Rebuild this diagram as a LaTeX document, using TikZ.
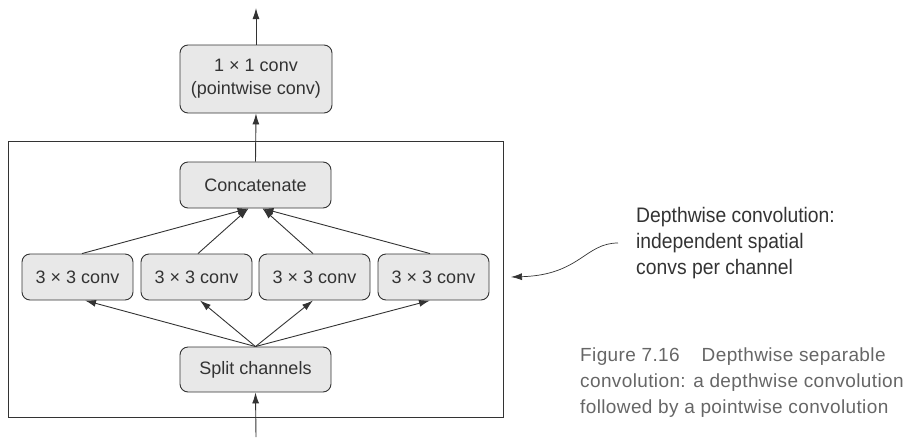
\documentclass[tikz,border=0pt]{standalone}
\usepackage{fontspec}
\setmainfont{Liberation Sans}
\newfontfamily\capfont[LetterSpace=2]{Liberation Sans}
\usetikzlibrary{arrows.meta}
\definecolor{boxfill}{RGB}{232,232,232}
\definecolor{ink}{RGB}{51,51,51}
\definecolor{capgray}{RGB}{102,102,102}
\begin{document}
\begin{tikzpicture}[x=1pt,y=-1pt,
  box/.style={draw=ink,line width=0.9pt,fill=boxfill,rounded corners=8pt,
    inner sep=0pt,align=center,text=ink,font=\fontsize{18}{23}\selectfont},
  conn/.style={draw=ink,line width=0.9pt,-{Latex[length=11pt,width=7pt]}},
  frame/.style={draw=ink,line width=0.9pt}]
\useasboundingbox (0,0) rectangle (905,437);
\draw[frame] (8,141) rectangle (503,417);
\node[box,minimum width=152pt,minimum height=68pt] (pw) at (256,79) {1 × 1 conv\\(pointwise conv)};
\node[box,minimum width=151pt,minimum height=46pt] (cat) at (255.5,185) {Concatenate};
\node[box,minimum width=111pt,minimum height=46pt] (c1) at (77.5,277) {3 × 3 conv};
\node[box,minimum width=111pt,minimum height=46pt] (c2) at (196.5,277) {3 × 3 conv};
\node[box,minimum width=111pt,minimum height=46pt] (c3) at (314.5,277) {3 × 3 conv};
\node[box,minimum width=111pt,minimum height=46pt] (c4) at (433.5,277) {3 × 3 conv};
\node[box,minimum width=151pt,minimum height=45pt] (split) at (255.5,369.5) {Split channels};
\coordinate (topend) at (256,8);
\coordinate (botstart) at (256,437);
\draw[conn] (pw.north) -- (topend);
\draw[conn] (cat.north) -- (pw.south);
\draw[conn] (botstart) -- (split.south);
\draw[conn] ([xshift=4.5pt]c1.north) -- ([xshift=-7pt]cat.south);
\draw[conn] ([xshift=1.5pt]c2.north) -- ([xshift=-7pt]cat.south);
\draw[conn] ([xshift=-1.5pt]c3.north) -- ([xshift=7pt]cat.south);
\draw[conn] ([xshift=-3.5pt]c4.north) -- ([xshift=7pt]cat.south);
\draw[conn] (split.north) -- ([xshift=7.5pt]c1.south);
\draw[conn] (split.north) -- ([xshift=3.5pt]c2.south);
\draw[conn] (split.north) -- ([xshift=-1.5pt]c3.south);
\draw[conn] (split.north) -- ([xshift=-3.5pt]c4.south);
\node[anchor=north west,align=left,inner sep=0pt,text=ink,
  font=\fontsize{21}{26}\selectfont] (note) at (636,207)
  {\scalebox{0.92}[1]{Depthwise convolution:}\\\scalebox{0.92}[1]{independent spatial}\\\scalebox{0.92}[1]{convs per channel}};
\coordinate (nstart) at (618,243);
\coordinate (nend) at (511,277);
\draw[conn,line width=0.7pt] (nstart) .. controls (585,243) and (580,275) .. (nend);
\node[anchor=north west,align=left,inner sep=0pt,text=capgray,
  font=\capfont\fontsize{19}{26}\selectfont] (cap) at (580,348)
  {Figure 7.16\hspace{22pt}Depthwise separable\\convolution: a depthwise convolution\\followed by a pointwise convolution};
\end{tikzpicture}
\end{document}
